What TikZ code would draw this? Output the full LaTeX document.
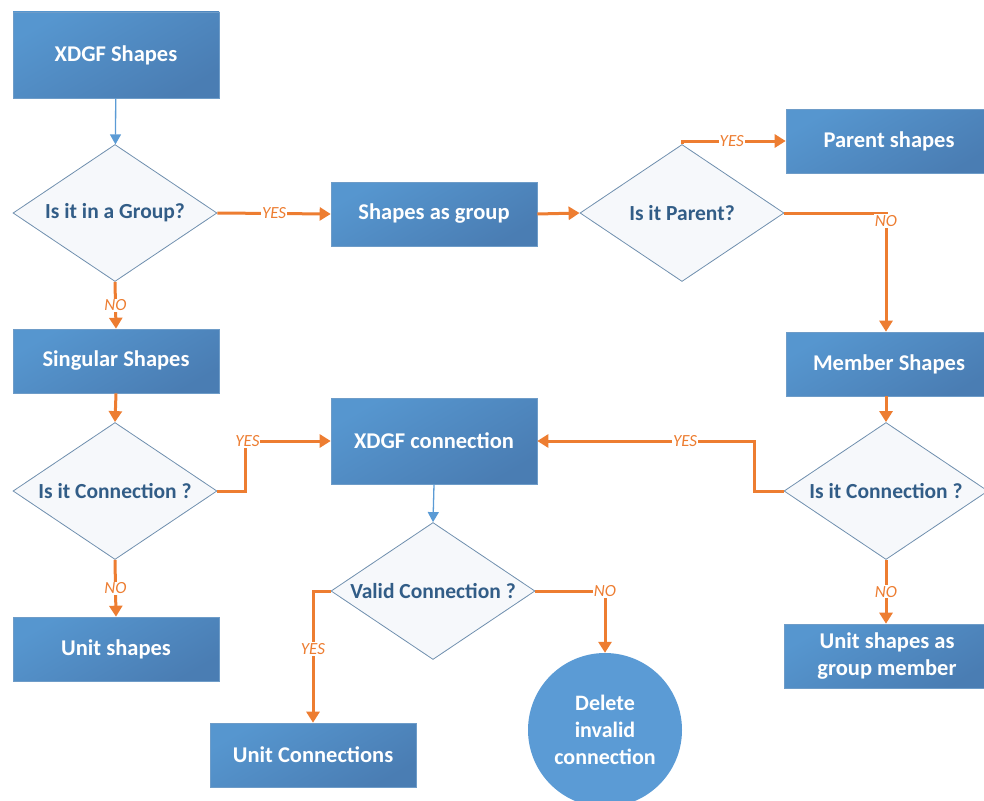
\documentclass[tikz,border=0pt]{standalone}
\usepackage{fontspec}
\setmainfont{Carlito}
\usetikzlibrary{shapes.geometric,arrows.meta}
\definecolor{boxtop}{HTML}{5696CF}
\definecolor{boxbot}{HTML}{4A7DB3}
\definecolor{boxline}{HTML}{6E9CC8}
\definecolor{dline}{HTML}{6F8FAE}
\definecolor{dtext}{HTML}{325D87}
\definecolor{dfill}{HTML}{F6F8FB}
\definecolor{orng}{HTML}{ED7D31}
\definecolor{bluearr}{HTML}{5B9BD5}
\definecolor{circ}{HTML}{5B9BD5}
\tikzset{
  box/.style={rectangle, draw=boxline, line width=0.6pt, top color=boxtop, bottom color=boxbot,
    shading angle=30,
    minimum width=206, minimum height=64, inner sep=0pt, text=white,
    font=\fontsize{22.5}{27}\selectfont\bfseries, align=center},
  tallbox/.style={box, minimum height=86},
  dec/.style={diamond, draw=dline, line width=0.8pt, fill=dfill, aspect=1.5,
    minimum width=204, minimum height=137, inner sep=0pt, text=dtext,
    font=\fontsize{21.5}{25}\selectfont\bfseries},
  circnode/.style={circle, fill=circ, minimum size=154, inner sep=0pt, text=white,
    font=\fontsize{22}{27}\selectfont\bfseries, align=center},
  oarr/.style={draw=orng, line width=3pt, -{Triangle[length=11pt,width=13pt]}},
  barr/.style={draw=bluearr, line width=1.3pt, -{Triangle[length=10pt,width=11pt]}},
  lbl/.style={fill=white, inner sep=1pt, text=orng, font=\fontsize{17}{19}\selectfont\itshape},
}
\begin{document}
\begin{tikzpicture}[x=1pt,y=-1pt]
\useasboundingbox (0,0) rectangle (984,800);
% nodes
\node[tallbox] (xs) at (116,55) {XDGF Shapes};
\node[dec] (d1) at (115,213) {Is it in a Group?};
\node[box] (sg) at (434,214) {Shapes as group};
\node[dec] (ip) at (682,213) {Is it Parent?};
\node[box] (ps) at (889,141) {Parent shapes};
\node[box] (ms) at (889,364) {Member Shapes};
\node[box] (ss) at (116,361) {Singular Shapes};
\node[dec] (d2) at (115,491) {Is it Connection ?};
\node[box] (us) at (116,649) {Unit shapes};
\node[tallbox] (xc) at (434,441) {XDGF connection};
\node[dec] (vc) at (433,591) {Valid Connection ?};
\node[box] (uc) at (313,755) {Unit Connections};
\node[circnode] (del) at (605,730) {Delete\\invalid\\connection};
\node[dec] (md) at (886,491) {Is it Connection ?};
\node[box] (um) at (887,656) {Unit shapes as\\group member};
% connectors
\draw[barr] (xs) -- (d1);
\draw[oarr] (d1.east) -- node[lbl]{YES} (sg.west);
\draw[oarr] (d1.south) -- node[lbl]{NO} (ss.north);
\draw[oarr] (sg.east) -- (ip.west);
\draw[oarr] (ip.north) |- node[lbl,pos=0.74]{YES} (ps.west);
\draw[oarr] (ip.east) -| node[lbl,pos=0.5,yshift=-8pt]{NO} ([xshift=-3pt]ms.north);
\draw[oarr] (ss.south) -- (d2.north);
\draw[oarr] (d2.east) -- ++(28,0) |- node[lbl,pos=0.5,xshift=2pt]{YES} (xc.west);
\draw[oarr] (d2.south) -- node[lbl]{NO} (us.north);
\draw[barr] (xc.south) -- (vc.north);
\draw[oarr] (vc.west) -| node[lbl,pos=0.72]{YES} (uc.north);
\draw[oarr] (vc.east) -| node[lbl,pos=0.5]{NO} (del.north);
\draw[oarr] (ms.south -| md.north) -- (md.north);
\draw[oarr] (md.west) -- ++(-29,0) |- node[lbl,pos=0.66]{YES} (xc.east);
\draw[oarr] (md.south) -- node[lbl]{NO} (um.north -| md.south);
\end{tikzpicture}
\end{document}
